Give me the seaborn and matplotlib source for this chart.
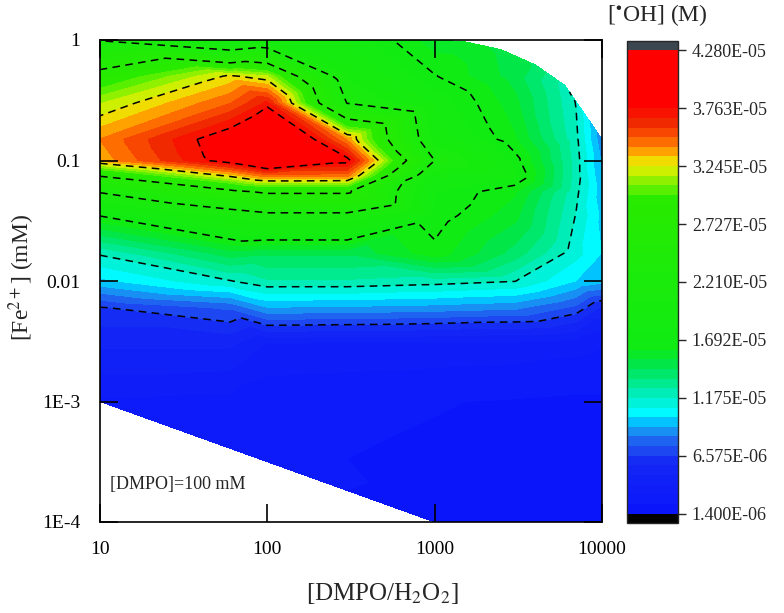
import numpy as np
import matplotlib
matplotlib.use("Agg")
import matplotlib.pyplot as plt
import matplotlib.tri as mtri
from matplotlib.colors import LinearSegmentedColormap
from matplotlib.ticker import FormatStrFormatter
import seaborn as sns

nan = np.nan

# DMPO/H2O2 ratios (columns) and Fe2+ concentrations in mM (rows)
ratio = [10, 60, 100, 300, 1000, 3000, 7000, 10000]
fe_mM = [1e-4, 1e-3, 0.003, 0.006, 0.01, 0.017, 0.035, 0.055, 0.075, 0.1, 0.15, 0.3, 0.5, 1.0]

# [*OH] in 1e-5 M, one row per Fe2+ concentration, nan = no data
oh_e5 = [
    [nan, nan, nan, nan, 0.20, 0.19, 0.18, 0.18],
    [0.30, 0.28, 0.25, 0.24, 0.23, 0.22, 0.21, 0.21],
    [0.50, 0.50, 0.39, 0.38, 0.37, 0.36, 0.34, 0.32],
    [0.65, 0.76, 0.91, 0.90, 0.88, 0.85, 0.72, 0.55],
    [0.98, 1.17, 1.25, 1.25, 1.22, 1.18, 1.00, 0.95],
    [1.19, 1.48, 1.45, 1.45, 1.66, 1.40, 1.12, 1.00],
    [1.70, 2.05, 2.14, 2.14, 1.75, 1.55, 1.17, 0.98],
    [2.23, 2.66, 2.77, 2.77, 1.78, 1.62, 1.20, 0.95],
    [2.75, 3.28, 3.48, 3.46, 1.90, 1.80, 1.22, 0.92],
    [3.36, 3.85, 4.10, 3.82, 2.21, 1.74, 1.22, 0.90],
    [3.42, 3.88, 4.28, 3.40, 1.95, 1.62, 1.20, 0.85],
    [3.15, 3.50, 3.70, 2.20, 1.85, 1.55, 1.17, nan],
    [2.85, 3.27, 3.17, 2.00, 1.70, 1.48, nan, nan],
    [2.18, 1.80, 1.94, 1.85, 1.55, nan, nan, nan],
]

# extra points along the upper right edge of the measured area
edge_ratio = [1500, 2500, 4000, 6000]
edge_fe = [0.97, 0.83, 0.62, 0.42]
edge_oh_e5 = [1.55, 1.50, 1.42, 1.22]

cbar_ticks = [1.400e-6, 6.575e-6, 1.175e-5, 1.692e-5, 2.210e-5,
              2.727e-5, 3.245e-5, 3.763e-5, 4.280e-5]

# colour stops (value in 1e-5 M, rgb)
stop_vals = [0.14, 0.60, 0.72, 0.85, 0.96, 1.05, 1.15, 1.27, 1.45, 1.60,
             2.95, 3.05, 3.15, 3.25, 3.35, 3.43, 3.52, 3.65, 3.80, 4.28]
stop_rgb = [(10, 20, 250), (20, 40, 245), (30, 80, 240), (30, 130, 240),
            (0, 200, 255), (0, 250, 255), (0, 240, 210), (0, 235, 160),
            (0, 230, 80), (15, 235, 20), (40, 235, 0), (100, 240, 0),
            (170, 240, 0), (230, 240, 0), (255, 190, 0), (255, 130, 0),
            (250, 80, 0), (240, 40, 0), (255, 0, 0), (255, 0, 0)]

sns.set_style("white")
plt.rcParams['font.family'] = ['Liberation Serif', 'DejaVu Serif']
plt.rcParams['mathtext.fontset'] = 'stix'

# build point list (log10 space)
xs, ys, zs = [], [], []
for i, f in enumerate(fe_mM):
    for j, r in enumerate(ratio):
        v = oh_e5[i][j]
        if not np.isnan(v):
            xs.append(np.log10(r))
            ys.append(np.log10(f))
            zs.append(v * 1e-5)
for r, f, v in zip(edge_ratio, edge_fe, edge_oh_e5):
    xs.append(np.log10(r))
    ys.append(np.log10(f))
    zs.append(v * 1e-5)
tri = mtri.Triangulation(xs, ys)
zs = np.array(zs)

lo, hi = cbar_ticks[0], cbar_ticks[-1]
pos = [(v * 1e-5 - lo) / (hi - lo) for v in stop_vals]
pos[0], pos[-1] = 0.0, 1.0
cmap = LinearSegmentedColormap.from_list(
    "oh", list(zip(pos, [tuple(c / 255 for c in rgb) for rgb in stop_rgb])))
cmap.set_under('black')
cmap.set_over('#3c4650')

fig = plt.figure(figsize=(7.84, 6.13), dpi=100)
ax = fig.add_axes([100 / 784, 1 - 522 / 613, 502 / 784, 482 / 613])
cax = fig.add_axes([627 / 784, 1 - 523 / 613, 51 / 784, 482 / 613])

levels = np.linspace(lo, hi, 49)
cf = ax.tricontourf(tri, zs, levels=levels, cmap=cmap, extend='both')
ax.tricontour(tri, zs, levels=cbar_ticks[1:-1], colors='k',
              linewidths=1.1, linestyles=[(0, (5, 3.5))])

ax.set_xlim(1, 4)
ax.set_ylim(-4, 0)
ax.set_xticks([1, 2, 3, 4])
ax.set_xticklabels(['10', '100', '1000', '10000'])
ax.set_yticks([-4, -3, -2, -1, 0])
ax.set_yticklabels(['1E-4', '1E-3', '0.01', '0.1', '1'])
ax.tick_params(direction='in', length=13, width=1.2, bottom=True, left=True,
               top=True, right=True, labelsize=14, pad=14, colors='k')
ax.set_axisbelow(False)
for s in ax.spines.values():
    s.set_linewidth(1.2)
    s.set_color('k')

ax.text(1.06, -3.69, '[DMPO]=100 mM', fontsize=13, va='center', ha='left')

cb = fig.colorbar(cf, cax=cax, ticks=cbar_ticks, extendrect=True, extendfrac=0.02)
cb.ax.yaxis.set_major_formatter(FormatStrFormatter('%.3E'))
cb.ax.minorticks_off()
cb.ax.tick_params(direction='out', length=6, width=1, right=True,
                  labelsize=13, pad=4)
cb.outline.set_linewidth(1)

fig.text(382 / 784, 1 - 593 / 613, '[DMPO/H$_2$O$_2$]', fontsize=18,
         ha='center', va='center')
fig.text(22 / 784, 1 - 277 / 613, '[Fe$^{2+}$] (mM)', fontsize=17,
         ha='center', va='center', rotation=90)
fig.text(657 / 784, 1 - 15 / 613, '[$^{\\bullet}$OH] (M)', fontsize=17,
         ha='center', va='center')

fig.savefig('out.png', dpi=100)
